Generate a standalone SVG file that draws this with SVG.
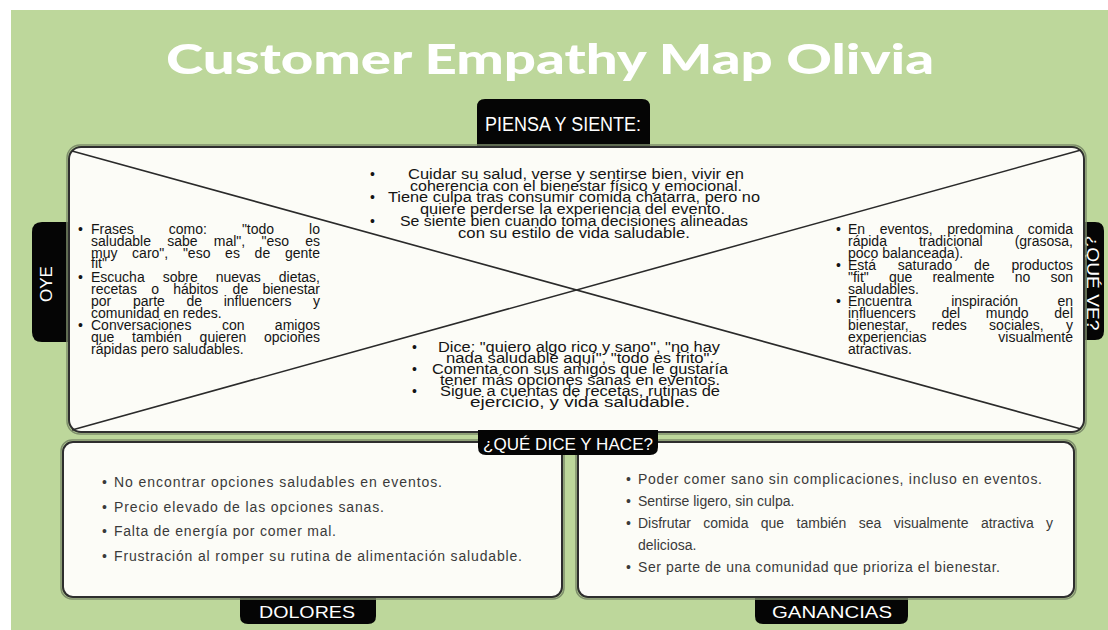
<svg xmlns="http://www.w3.org/2000/svg" width="1108" height="630" viewBox="0 0 1108 630">
<style>
.bg{fill:#bdd79b}
.panel{fill:#fcfcf7;stroke:#2e2e2e;stroke-width:2}
.halo{fill:none;stroke:#7f8f6c;stroke-width:1.5}
.tab{fill:#050505}
.tabtxt{fill:#ffffff;font-family:"Liberation Sans",Arial,sans-serif}
.t{font-family:"Liberation Sans",Arial,sans-serif;font-size:14px;fill:#141414}
.b{font-family:"Liberation Sans",Arial,sans-serif;font-size:14px;fill:#3a3a3a}
.diag{stroke:#2a2a2a;stroke-width:1.6;fill:none}
.end{text-anchor:end}
</style>
<rect x="0" y="0" width="1108" height="630" fill="#ffffff"/>
<rect class="bg" x="11" y="10" width="1097" height="620"/>

<g id="title">
<text x="550" y="74" text-anchor="middle" font-family="Lato,'Liberation Sans',Arial,sans-serif" font-weight="900" font-size="41" fill="#ffffff" textLength="768" lengthAdjust="spacingAndGlyphs">Customer Empathy Map Olivia</text>
</g>

<g id="tab-oye">
<path class="tab" d="M72,222 L42,222 Q32,222 32,232 L32,332 Q32,342 42,342 L72,342 Z"/>
<text class="tabtxt" font-size="17" transform="translate(52,284) rotate(-90)" text-anchor="middle">OYE</text>
</g>
<g id="tab-que-ve">
<path class="tab" d="M1080,222 L1095,222 Q1104,222 1104,231 L1104,331 Q1104,340 1095,340 L1080,340 Z"/>
<text class="tabtxt" font-size="16" transform="translate(1087,283) rotate(90)" text-anchor="middle" textLength="95" lengthAdjust="spacingAndGlyphs">¿QUÉ VE?</text>
</g>
<g id="tab-piensa">
<path class="tab" d="M477,149 L477,107 Q477,99 485,99 L642,99 Q650,99 650,107 L650,149 Z"/>
<text class="tabtxt" font-size="21" x="563" y="131" text-anchor="middle" textLength="156" lengthAdjust="spacingAndGlyphs">PIENSA Y SIENTE:</text>
</g>

<g id="main-panel">
<rect class="halo" x="67" y="145" width="1019" height="289" rx="13"/>
<rect class="panel" x="69" y="147" width="1015" height="285" rx="12"/>
</g>

<g id="connectors">
<line class="diag" x1="72" y1="151" x2="1081" y2="429"/>
<line class="diag" x1="1081" y1="150" x2="72" y2="430"/>
</g>

<g id="piensa-y-siente">
<text class="t" x="370" y="179">•</text>
<text class="t" x="370" y="202">•</text>
<text class="t" x="370" y="226">•</text>
<text class="t" x="408" y="179" textLength="336" lengthAdjust="spacingAndGlyphs">Cuidar su salud, verse y sentirse bien, vivir en</text>
<text class="t" x="410" y="190.5" textLength="332" lengthAdjust="spacingAndGlyphs">coherencia con el bienestar físico y emocional.</text>
<text class="t" x="388" y="202" textLength="372" lengthAdjust="spacingAndGlyphs">Tiene culpa tras consumir comida chatarra, pero no</text>
<text class="t" x="420" y="214" textLength="305" lengthAdjust="spacingAndGlyphs">quiere perderse la experiencia del evento.</text>
<text class="t" x="400" y="226" textLength="348" lengthAdjust="spacingAndGlyphs">Se siente bien cuando toma decisiones alineadas</text>
<text class="t" x="458" y="238" textLength="232" lengthAdjust="spacingAndGlyphs">con su estilo de vida saludable.</text>
</g>

<g id="oye">
<text class="t" x="78" y="234">•</text>
<text class="t" x="78" y="282">•</text>
<text class="t" x="78" y="330">•</text>
<text class="t" y="234"><tspan x="91">Frases</tspan><tspan x="168.8">como:</tspan><tspan x="241.9">"todo</tspan><tspan x="320" class="end">lo</tspan></text>
<text class="t" y="246"><tspan x="91">saludable</tspan><tspan x="167.2">sabe</tspan><tspan x="213.8">mal",</tspan><tspan x="261.5">"eso</tspan><tspan x="320" class="end">es</tspan></text>
<text class="t" y="258"><tspan x="91">muy</tspan><tspan x="132.1">caro",</tspan><tspan x="182.9">"eso</tspan><tspan x="225.1">es</tspan><tspan x="254.6">de</tspan><tspan x="320" class="end">gente</tspan></text>
<text class="t" x="91" y="268">fit"</text>
<text class="t" y="282"><tspan x="91">Escucha</tspan><tspan x="162.7">sobre</tspan><tspan x="215.7">nuevas</tspan><tspan x="320" class="end">dietas,</tspan></text>
<text class="t" y="294"><tspan x="91">recetas</tspan><tspan x="151.2">o</tspan><tspan x="173.2">hábitos</tspan><tspan x="232.6">de</tspan><tspan x="320" class="end">bienestar</tspan></text>
<text class="t" y="306"><tspan x="91">por</tspan><tspan x="132.9">parte</tspan><tspan x="186.4">de</tspan><tspan x="223.7">influencers</tspan><tspan x="320" class="end">y</tspan></text>
<text class="t" x="91" y="318">comunidad en redes.</text>
<text class="t" y="330"><tspan x="91">Conversaciones</tspan><tspan x="221.9">con</tspan><tspan x="320" class="end">amigos</tspan></text>
<text class="t" y="342"><tspan x="91">que</tspan><tspan x="132.1">también</tspan><tspan x="199.6">quieren</tspan><tspan x="320" class="end">opciones</tspan></text>
<text class="t" x="91" y="354">rápidas pero saludables.</text>
</g>

<g id="que-ve">
<text class="t" x="836" y="234">•</text>
<text class="t" x="836" y="270">•</text>
<text class="t" x="836" y="306">•</text>
<text class="t" y="234"><tspan x="848">En</tspan><tspan x="879.7">eventos,</tspan><tspan x="947.2">predomina</tspan><tspan x="1073" class="end">comida</tspan></text>
<text class="t" y="246"><tspan x="848">rápida</tspan><tspan x="918.9">tradicional</tspan><tspan x="1073" class="end">(grasosa,</tspan></text>
<text class="t" x="848" y="258">poco balanceada).</text>
<text class="t" y="270"><tspan x="848">Está</tspan><tspan x="897.8">saturado</tspan><tspan x="974.1">de</tspan><tspan x="1073" class="end">productos</tspan></text>
<text class="t" y="282"><tspan x="848">"fit"</tspan><tspan x="888.9">que</tspan><tspan x="932.4">realmente</tspan><tspan x="1014.7">no</tspan><tspan x="1073" class="end">son</tspan></text>
<text class="t" x="848" y="294">saludables.</text>
<text class="t" y="306"><tspan x="848">Encuentra</tspan><tspan x="951.2">inspiración</tspan><tspan x="1073" class="end">en</tspan></text>
<text class="t" y="318"><tspan x="848">influencers</tspan><tspan x="941.4">del</tspan><tspan x="985.8">mundo</tspan><tspan x="1073" class="end">del</tspan></text>
<text class="t" y="330"><tspan x="848">bienestar,</tspan><tspan x="931.8">redes</tspan><tspan x="989.1">sociales,</tspan><tspan x="1073" class="end">y</tspan></text>
<text class="t" y="342"><tspan x="848">experiencias</tspan><tspan x="1073" class="end">visualmente</tspan></text>
<text class="t" x="848" y="354">atractivas.</text>
</g>

<g id="dice-y-hace">
<text class="t" x="412" y="352">•</text>
<text class="t" x="412" y="374">•</text>
<text class="t" x="412" y="396">•</text>
<text class="t" x="438" y="352" textLength="282" lengthAdjust="spacingAndGlyphs">Dice: "quiero algo rico y sano", "no hay</text>
<text class="t" x="446" y="363" textLength="268" lengthAdjust="spacingAndGlyphs">nada saludable aquí", "todo es frito".</text>
<text class="t" x="432" y="374" textLength="296" lengthAdjust="spacingAndGlyphs">Comenta con sus amigos que le gustaría</text>
<text class="t" x="440" y="385" textLength="280" lengthAdjust="spacingAndGlyphs">tener más opciones sanas en eventos.</text>
<text class="t" x="440" y="396" textLength="280" lengthAdjust="spacingAndGlyphs">Sigue a cuentas de recetas, rutinas de</text>
<text class="t" x="470" y="407" textLength="220" lengthAdjust="spacingAndGlyphs">ejercicio, y vida saludable.</text>
</g>

<g id="dolores">
<path class="tab" d="M240,594 L376,594 L376,616 Q376,624 368,624 L248,624 Q240,624 240,616 Z"/>
<text class="tabtxt" font-size="17" x="307" y="618" text-anchor="middle" textLength="96" lengthAdjust="spacingAndGlyphs">DOLORES</text>
<rect class="halo" x="61" y="440" width="503" height="159" rx="11"/>
<rect class="panel" x="63" y="442" width="499" height="155" rx="10"/>
<text class="b" x="102" y="487">•</text>
<text class="b" x="102" y="512">•</text>
<text class="b" x="102" y="536">•</text>
<text class="b" x="102" y="561">•</text>
<text class="b" x="114" y="487" textLength="328" lengthAdjust="spacing">No encontrar opciones saludables en eventos.</text>
<text class="b" x="114" y="512" textLength="270" lengthAdjust="spacing">Precio elevado de las opciones sanas.</text>
<text class="b" x="114" y="536" textLength="222" lengthAdjust="spacing">Falta de energía por comer mal.</text>
<text class="b" x="114" y="561" textLength="408" lengthAdjust="spacing">Frustración al romper su rutina de alimentación saludable.</text>
</g>

<g id="ganancias">
<path class="tab" d="M755,594 L908,594 L908,616 Q908,624 900,624 L763,624 Q755,624 755,616 Z"/>
<text class="tabtxt" font-size="17" x="832" y="618" text-anchor="middle" textLength="120" lengthAdjust="spacingAndGlyphs">GANANCIAS</text>
<rect class="halo" x="576" y="440" width="500" height="159" rx="11"/>
<rect class="panel" x="578" y="442" width="496" height="155" rx="10"/>
<text class="b" x="626" y="484">•</text>
<text class="b" x="626" y="506">•</text>
<text class="b" x="626" y="528">•</text>
<text class="b" x="626" y="572">•</text>
<text class="b" x="638" y="484" textLength="404" lengthAdjust="spacing">Poder comer sano sin complicaciones, incluso en eventos.</text>
<text class="b" x="638" y="506">Sentirse ligero, sin culpa.</text>
<text class="b" y="528"><tspan x="638">Disfrutar</tspan><tspan x="703.3">comida</tspan><tspan x="760.8">que</tspan><tspan x="796.6">también</tspan><tspan x="858.8">sea</tspan><tspan x="893.8">visualmente</tspan><tspan x="980.9">atractiva</tspan><tspan x="1053" class="end">y</tspan></text>
<text class="b" x="638" y="550">deliciosa.</text>
<text class="b" x="638" y="572" textLength="362" lengthAdjust="spacing">Ser parte de una comunidad que prioriza el bienestar.</text>
</g>

<g id="tab-dice">
<path class="tab" d="M478,430 L658,430 L658,447 Q658,455 650,455 L486,455 Q478,455 478,447 Z"/>
<text class="tabtxt" font-size="17" x="568" y="450" text-anchor="middle" textLength="170" lengthAdjust="spacingAndGlyphs">¿QUÉ DICE Y HACE?</text>
</g>
</svg>
